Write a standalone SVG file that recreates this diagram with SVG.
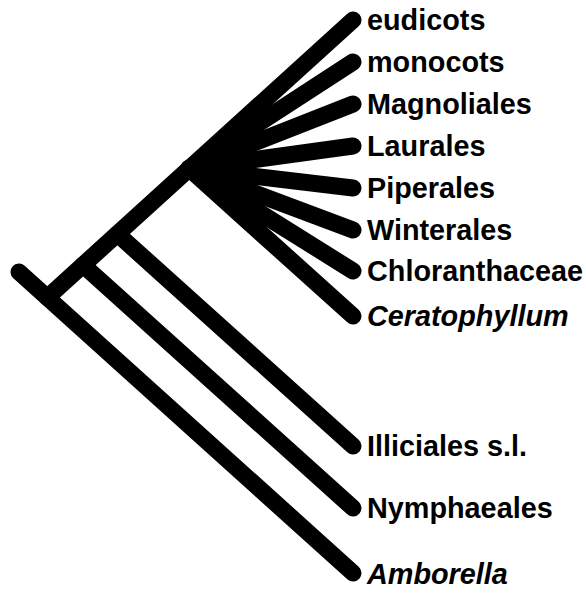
<svg xmlns="http://www.w3.org/2000/svg" width="586" height="594" viewBox="0 0 586 594">
<style>
.e{stroke:#000;stroke-width:17;stroke-linecap:round;fill:none}
.t{font-family:"Liberation Sans",Arial,Helvetica,sans-serif;font-weight:bold;font-size:28.8px;fill:#000}
.i{font-style:italic}
</style>
<rect width="586" height="594" fill="#fff"/>
<g id="connectors">
<line class="e" x1="19" y1="272" x2="353" y2="573"/>
<line class="e" x1="47.3" y1="297.5" x2="353" y2="20"/>
<line class="e" x1="83" y1="265" x2="353" y2="508"/>
<line class="e" x1="117.4" y1="234" x2="353" y2="446"/>
<line class="e" x1="189" y1="168.5" x2="353" y2="316"/>
<line class="e" x1="189" y1="168.5" x2="353" y2="62"/>
<line class="e" x1="189" y1="168.5" x2="353" y2="104"/>
<line class="e" x1="189" y1="168.5" x2="353" y2="146"/>
<line class="e" x1="189" y1="168.5" x2="353" y2="188"/>
<line class="e" x1="189" y1="168.5" x2="353" y2="230"/>
<line class="e" x1="189" y1="168.5" x2="353" y2="271"/>
</g>
<g id="eudicots"><text class="t" x="367" y="30">eudicots</text></g>
<g id="monocots"><text class="t" x="367" y="72">monocots</text></g>
<g id="magnoliales"><text class="t" x="367" y="114">Magnoliales</text></g>
<g id="laurales"><text class="t" x="367" y="156">Laurales</text></g>
<g id="piperales"><text class="t" x="367" y="198">Piperales</text></g>
<g id="winterales"><text class="t" x="367" y="240">Winterales</text></g>
<g id="chloranthaceae"><text class="t" x="367" y="281">Chloranthaceae</text></g>
<g id="ceratophyllum"><text class="t i" x="367" y="326">Ceratophyllum</text></g>
<g id="illiciales"><text class="t" x="367" y="456">Illiciales s.l.</text></g>
<g id="nymphaeales"><text class="t" x="367" y="518">Nymphaeales</text></g>
<g id="amborella"><text class="t i" x="367" y="584">Amborella</text></g>
</svg>
